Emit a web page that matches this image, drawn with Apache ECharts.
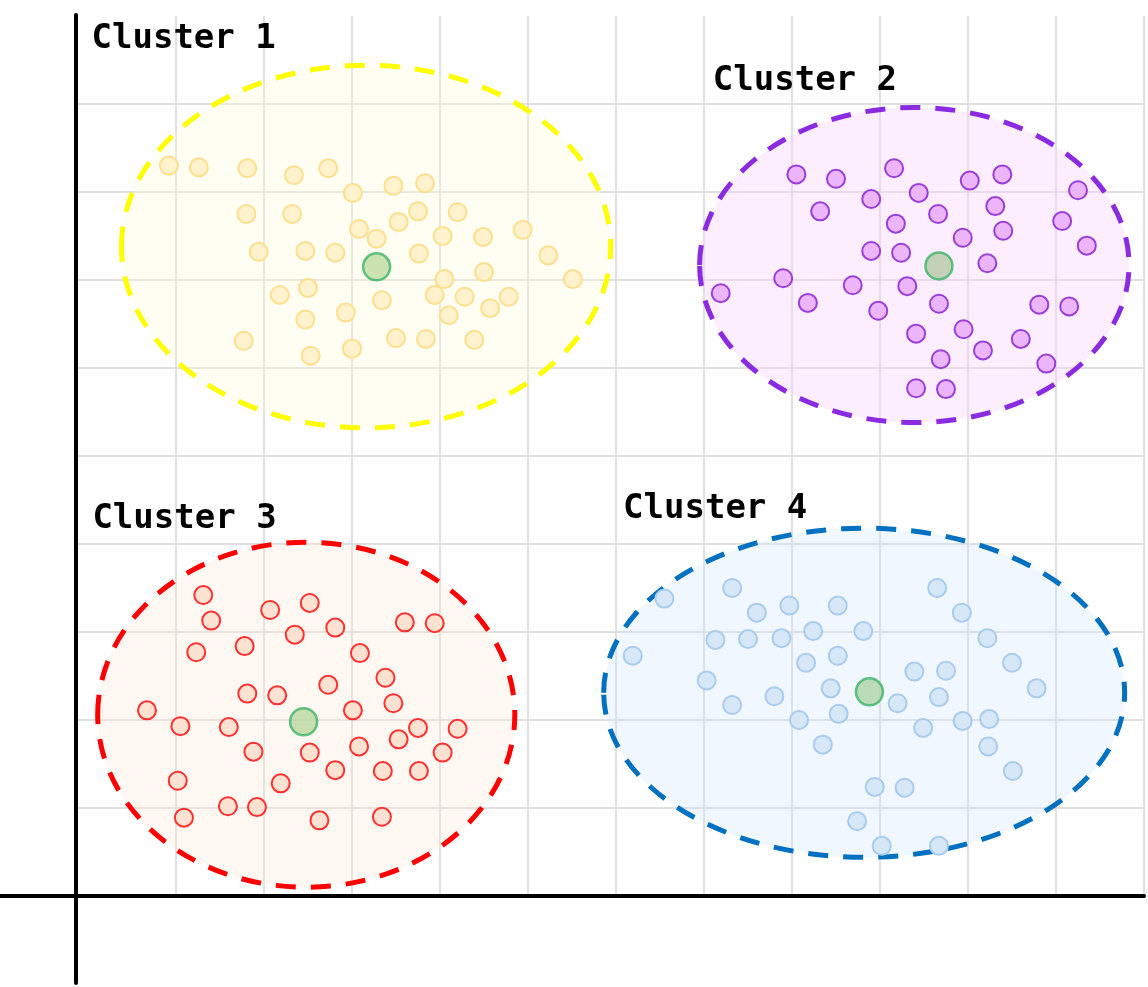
<!DOCTYPE html>
<html>
<head>
<meta charset="utf-8">
<script src="https://cdn.jsdelivr.net/npm/echarts@6/dist/echarts.min.js"></script>
<style>
html,body{margin:0;padding:0;background:#fff;}
#chart{width:1148px;height:987px;}
</style>
</head>
<body>
<div id="chart"></div>
<script>
// ---- data (x: 0..120, y: 0..100) ----
const cluster1 = [[9.2,83.0],[12.6,82.8],[18.1,82.7],[23.4,81.9],[27.3,82.7],[30.1,79.9],[34.7,80.7],[38.3,81.0],
  [18.0,77.5],[23.2,77.5],[37.5,77.8],[42.0,77.7],[30.8,75.8],[35.3,76.6],[32.8,74.7],[40.3,75.0],[44.9,74.9],[49.4,75.7],
  [19.4,73.2],[24.7,73.3],[28.1,73.1],[37.6,73.0],[52.3,72.8],[40.5,70.1],[45.0,70.9],[55.1,70.1],[21.8,68.3],[25.0,69.1],
  [33.4,67.7],[39.4,68.3],[42.8,68.1],[47.8,68.1],[45.7,66.8],[41.0,66.0],[24.7,65.5],[29.3,66.3],[17.7,63.1],[35.0,63.4],
  [38.4,63.3],[43.9,63.2],[25.3,61.4],[30.0,62.2]];
const cluster2 = [[80.5,82.0],[85.0,81.5],[91.6,82.7],[100.2,81.3],[103.9,82.0],[112.5,80.2],[89.0,79.2],[94.4,79.9],
  [83.2,77.8],[96.6,77.5],[103.1,78.4],[91.8,76.4],[110.7,76.7],[99.4,74.8],[104.0,75.6],[113.5,73.9],[89.0,73.3],[92.4,73.1],
  [102.2,71.9],[79.0,70.2],[71.9,68.5],[86.9,69.4],[93.1,69.3],[81.8,67.4],[89.8,66.5],[96.7,67.3],[108.1,67.2],[111.5,67.0],
  [94.1,63.9],[99.5,64.4],[101.7,62.0],[106.0,63.3],[96.9,61.0],[108.9,60.5],[94.1,57.7],[97.5,57.6]];
const cluster3 = [[13.1,34.2],[14.0,31.3],[20.7,32.5],[25.2,33.3],[36.0,31.1],[39.4,31.0],[12.3,27.7],[17.8,28.4],
  [23.5,29.7],[28.1,30.5],[30.9,27.6],[33.8,24.8],[27.3,24.0],[18.1,23.0],[21.5,22.8],[34.7,21.9],[6.7,21.1],[30.1,21.1],
  [10.5,19.3],[16.0,19.2],[37.5,19.1],[42.0,19.0],[35.3,17.8],[30.8,17.0],[18.8,16.4],[25.2,16.3],[40.3,16.3],[28.1,14.3],
  [33.5,14.2],[37.6,14.2],[10.2,13.1],[21.9,12.8],[15.9,10.2],[19.2,10.1],[10.9,8.9],[26.3,8.6],[33.4,9.0]];
const cluster4 = [[73.2,35.0],[65.5,33.8],[76.0,32.2],[79.7,33.0],[85.2,33.0],[96.5,35.0],[99.3,32.2],[71.3,29.1],
  [75.0,29.2],[78.8,29.3],[82.4,30.1],[88.1,30.1],[102.2,29.3],[61.9,27.3],[81.6,26.5],[85.2,27.3],[93.9,25.5],[97.5,25.6],
  [105.0,26.5],[70.3,24.5],[84.4,23.6],[107.8,23.6],[78.0,22.7],[92.0,21.9],[96.7,22.6],[73.2,21.7],[85.3,20.7],[80.8,20.0],
  [94.9,19.1],[99.4,19.9],[102.4,20.1],[83.5,17.2],[102.3,17.0],[105.1,14.2],[89.4,12.4],[92.8,12.3],[87.4,8.5],
  [90.2,5.7],[96.7,5.7]];
const centroids = [[32.8,71.5],[96.7,71.6],[24.5,19.8],[88.8,23.2]];
// cluster boundary ellipses: [centerX, centerY, radiusX, radiusY]
const boundaries = [[31.6,73.8,27.8,20.6],[93.9,71.7,24.4,17.9],[24.8,20.6,23.7,19.6],[88.2,23.1,29.6,18.7]];
const clusterNames = ['Cluster 1','Cluster 2','Cluster 3','Cluster 4'];
const labelAnchors = [[0.4,97.4],[71.0,92.6],[0.5,42.8],[60.8,44.0]];

// ---- styles ----
const pointFill   = ['#fff2cc','#ebb4fb','#fde2d2','#d6e8f8'];
const pointStroke = ['#fddf8c','#9a3ed8','#ff3030','#a8cbee'];
const ellStroke   = ['#ffff00','#8a2be2','#ff0000','#0070c0'];
const ellFill     = ['rgba(255,252,215,0.30)','rgba(246,205,255,0.35)','rgba(255,228,210,0.30)','rgba(205,230,252,0.30)'];
const centFill    = ['#bddc9f','#b6c9a5','#b9d8a0','#acd4a6'];

const chart = echarts.init(document.getElementById('chart'), null, {renderer:'canvas'});

const hidden = {axisLabel:{show:false}, axisTick:{show:false}, axisLine:{show:false}, splitLine:{show:false}};
const gridColor = '#d6d6d6';

const series = [];
series.push({
  type:'custom', xAxisIndex:0, yAxisIndex:0, z:2, silent:true,
  data: boundaries,
  renderItem:function(params, api){
    const i = params.dataIndex;
    const c = api.coord([api.value(0), api.value(1)]);
    const s = api.size([api.value(2), api.value(3)]);
    return {type:'ellipse', shape:{cx:c[0], cy:c[1], rx:s[0], ry:s[1]},
      style:{fill:ellFill[i], stroke:ellStroke[i], lineWidth:5, lineDash:[20,15]}};
  }
});
[cluster1,cluster2,cluster3,cluster4].forEach((d,i)=>{
  series.push({type:'scatter', xAxisIndex:0, yAxisIndex:0, z:3, data:d, symbol:'circle', symbolSize:18, silent:true,
    itemStyle:{color:pointFill[i], borderColor:pointStroke[i], borderWidth:2, opacity:1}});
});
series.push({type:'scatter', xAxisIndex:0, yAxisIndex:0, z:4, symbol:'circle', symbolSize:27, silent:true,
  data: centroids.map((c,i)=>({value:c, itemStyle:{color:centFill[i]}})),
  itemStyle:{borderColor:'#3cb469', borderWidth:2.5}});
series.push({
  type:'custom', xAxisIndex:0, yAxisIndex:0, z:5, silent:true,
  data: labelAnchors,
  renderItem:function(params, api){
    const c = api.coord([api.value(0), api.value(1)]);
    return {type:'text', x:c[0], y:c[1], style:{text:clusterNames[params.dataIndex],
      font:'bold 34px "DejaVu Sans Mono"', fill:'#000', align:'left', verticalAlign:'middle'}};
  }
});

const option = {
  animation:false,
  backgroundColor:'#ffffff',
  grid:[
    {left:88, right:4, top:16, bottom:91},   // data + vertical grid lines
    {left:76, right:4, top:16, bottom:91},   // horizontal grid lines
    {left:0, right:4, top:15, bottom:4}      // black axis cross
  ],
  xAxis:[
    {type:'value', gridIndex:0, min:0, max:120, interval:10, ...hidden,
      splitLine:{show:true, showMinLine:false, showMaxLine:true, lineStyle:{color:gridColor, width:1.5}}},
    {type:'value', gridIndex:1, min:0, max:100, ...hidden},
    {type:'value', gridIndex:2, min:-76, max:1068, axisLabel:{show:false}, axisTick:{show:false}, splitLine:{show:false},
      axisLine:{show:true, onZero:true, lineStyle:{color:'#000', width:4}}}
  ],
  yAxis:[
    {type:'value', gridIndex:0, min:0, max:100, interval:10, ...hidden},
    {type:'value', gridIndex:1, min:0, max:100, interval:10, ...hidden,
      splitLine:{show:true, showMinLine:false, showMaxLine:false, lineStyle:{color:gridColor, width:1.5}}},
    {type:'value', gridIndex:2, min:-87, max:881, axisLabel:{show:false}, axisTick:{show:false}, splitLine:{show:false},
      axisLine:{show:true, onZero:true, lineStyle:{color:'#000', width:4}}}
  ],
  series: series
};
chart.setOption(option);
</script>
</body>
</html>
